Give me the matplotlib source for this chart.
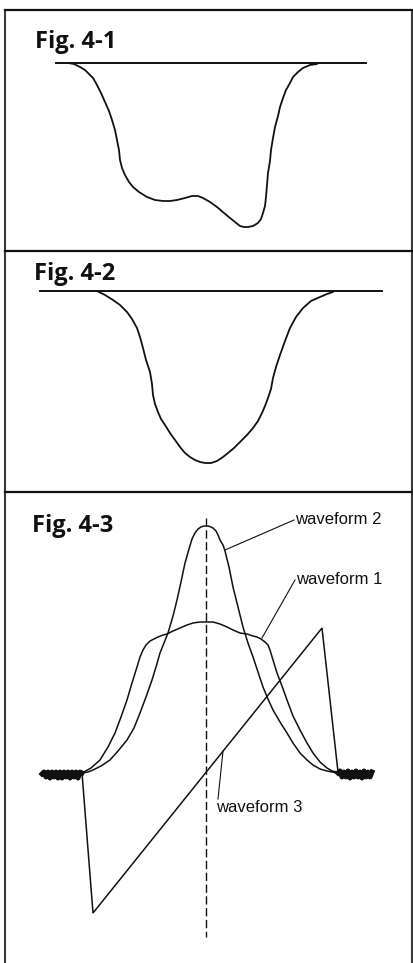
import matplotlib
matplotlib.use("Agg")
import matplotlib.pyplot as plt
from matplotlib.lines import Line2D

W, H = 414, 963
fig = plt.figure(figsize=(W / 100, H / 100), dpi=100)
fig.patch.set_facecolor("white")

# ---------------- data ----------------
# Fig. 4-1 : distorted pulse (time, level)
t1 = [63, 69, 75, 80, 83, 88, 92, 96, 100, 104, 107, 110, 112, 114, 115, 117, 120, 124, 128,
      134, 142, 150, 158, 165, 172, 180, 187, 193, 198, 205, 212, 219, 225, 230, 235, 239,
      243, 248, 253, 256, 258, 260, 261, 262, 263, 265, 266, 268, 270, 273, 275, 278, 281,
      285, 288, 293, 298, 305, 312]
l1 = [0, -1, -4, -7, -10, -15, -22, -30, -39, -48, -57, -67, -77, -87, -97, -105, -112, -119, -124,
      -129, -134, -137, -138, -138, -137, -135, -133, -133, -135, -139, -144, -150, -155, -159, -163, -164,
      -164, -163, -160, -156, -150, -143, -134, -122, -110, -98, -87, -75, -64, -53, -44, -35, -27,
      -20, -14, -9, -5, -2, -1]
ref1 = [51, 361]

# Fig. 4-2 : clean pulse
t2 = [92, 100, 108, 115, 122, 127, 132, 135, 138, 141, 145, 147, 148, 150, 153, 156, 160, 165,
      170, 175, 180, 185, 190, 195, 200, 206, 212, 218, 223, 229, 235, 242, 248, 253, 257,
      260, 263, 266, 268, 271, 275, 280, 285, 291, 298, 306, 315, 322, 328]
l2 = [0, -4, -9, -14, -21, -28, -37, -46, -57, -69, -81, -93, -104, -113, -121, -128, -134, -142,
      -149, -156, -162, -166, -169, -171, -172, -172, -170, -166, -162, -157, -151, -144, -137, -130, -122,
      -115, -107, -98, -87, -76, -64, -50, -37, -26, -17, -10, -6, -3, -1]
ref2 = [35, 377]

# Fig. 4-3 : three waveforms
t_w1 = [77, 86, 95, 103, 110, 116, 122, 127, 132, 135, 138, 141, 145, 149, 153, 158, 162, 168,
        175, 182, 188, 195, 201, 208, 215, 222, 228, 235, 242, 248, 252, 256, 260, 263, 265,
        268, 272, 277, 282, 288, 295, 302, 308, 315, 322, 327, 332]
l_w1 = [0, 5, 13, 26, 40, 56, 73, 90, 106, 116, 123, 128, 132, 134, 136, 138, 139, 142,
        145, 148, 150, 151, 151, 151, 149, 146, 143, 140, 139, 137, 136, 134, 131, 128, 123,
        113, 100, 87, 73, 57, 43, 30, 20, 11, 5, 2, 1]
t_w2 = [77, 83, 88, 96, 105, 113, 122, 129, 135, 141, 147, 151, 155, 159, 163, 168, 172, 176,
        180, 184, 187, 190, 193, 196, 199, 201, 203, 206, 208, 211, 213, 215, 218, 220, 224,
        228, 233, 238, 243, 248, 253, 258, 263, 268, 275, 282, 288, 295, 302, 308, 315, 322,
        327, 332]
l_w2 = [0, 1, 3, 7, 13, 22, 33, 45, 60, 76, 93, 106, 120, 130, 140, 157, 173, 191,
        210, 224, 234, 240, 244, 246, 247, 247, 247, 246, 245, 242, 238, 233, 228, 222, 206,
        186, 166, 146, 130, 116, 101, 86, 74, 63, 51, 40, 30, 20, 13, 8, 4, 2,
        1, 0]
t_w3 = [77, 88, 317, 333]
l_w3 = [0, -140, 145, 1]
center_t = 201
center_span = [255, -164]
noise_left_t = [37, 39, 41, 43, 45, 47, 49, 51, 53, 55, 57, 59, 61, 63, 65, 67, 69, 71, 73, 75, 77]
noise_right_t = [333, 335, 337, 339, 341, 343, 345, 347, 349, 351, 353, 355, 357, 359, 361, 363, 365, 367]
noise_left = [-1, 1, -4, 1, -5, 1, -4, 1, -5, 1, -5, 1, -4, 1, -5, 1, -4, 1, -5, 1, 0]
noise_right = [0, 2, -4, 1, -4, 2, -5, 1, -4, 2, -4, 1, -5, 2, -4, 1, -4, 1]

labels = ["waveform 2", "waveform 1", "waveform 3"]
titles = ["Fig. 4-1", "Fig. 4-2", "Fig. 4-3"]

# ---------------- layout helpers ----------------
def px_axes(x0, y0, x1, y1, base):
    ax = fig.add_axes([x0 / W, 1 - y1 / H, (x1 - x0) / W, (y1 - y0) / H])
    ax.set_xlim(0, x1 - x0)
    ax.set_ylim(base - y1, base - y0)
    ax.axis("off")
    return ax

def fline(xs, ys, **kw):
    fig.add_artist(Line2D([x / W for x in xs], [1 - y / H for y in ys],
                          transform=fig.transFigure, **kw))

frame_kw = dict(color="#3a3a3a", lw=1.5, solid_capstyle="butt")
fline([5, 5], [10, 963], **frame_kw)
fline([412, 412], [10, 963], **frame_kw)
fline([5, 412], [10, 10], color="#111111", lw=1.6)
fline([5, 412], [251, 251], color="#111111", lw=1.6)
fline([5, 412], [492, 492], color="#111111", lw=1.6)

title_font = dict(family="Open Sans", weight="bold", fontsize=17, color="#111111")
for txt, (x, y) in zip(titles, [(35, 48), (34, 280), (32, 532)]):
    fig.text(x / W, 1 - y / H, txt, ha="left", va="baseline", **title_font)

line_kw = dict(color="#111111", solid_joinstyle="round", solid_capstyle="round")

# ---------------- panel 1 ----------------
ax1 = px_axes(5, 11, 412, 251, 63)
ax1.plot(ref1, [0, 0], color="#111111", lw=1.4)
ax1.plot(t1, l1, lw=1.3, **line_kw)

# ---------------- panel 2 ----------------
ax2 = px_axes(5, 252, 412, 492, 291)
ax2.plot(ref2, [0, 0], color="#111111", lw=1.4)
ax2.plot(t2, l2, lw=1.3, **line_kw)

# ---------------- panel 3 ----------------
ax3 = px_axes(5, 493, 412, 963, 773)
ax3.plot([center_t, center_t], center_span, color="#111111", lw=1.0,
         linestyle=(0, (6, 2.5)))
ax3.plot(t_w1, l_w1, lw=1.1, **line_kw)
ax3.plot(t_w2, l_w2, lw=1.1, **line_kw)
ax3.plot(t_w3, l_w3, color="#111111", lw=1.1, solid_joinstyle="miter")
ax3.plot(noise_left_t, noise_left, color="#111111", lw=3.6)
ax3.plot(noise_right_t, noise_right, color="#111111", lw=3.6)

lab_font = dict(family="Liberation Sans", fontsize=12, color="#111111")
# leader lines + labels
ax3.plot([289, 220], [253, 223], color="#111111", lw=0.8)
ax3.text(290, 253, labels[0], ha="left", va="center", **lab_font)
ax3.plot([290, 257], [193, 135], color="#111111", lw=0.8)
ax3.text(291, 194, labels[1], ha="left", va="center", **lab_font)
ax3.plot([213, 218], [-26, 22], color="#111111", lw=0.8)
ax3.text(211, -34, labels[2], ha="left", va="center", **lab_font)

fig.savefig("out.png", dpi=100, facecolor="white")
